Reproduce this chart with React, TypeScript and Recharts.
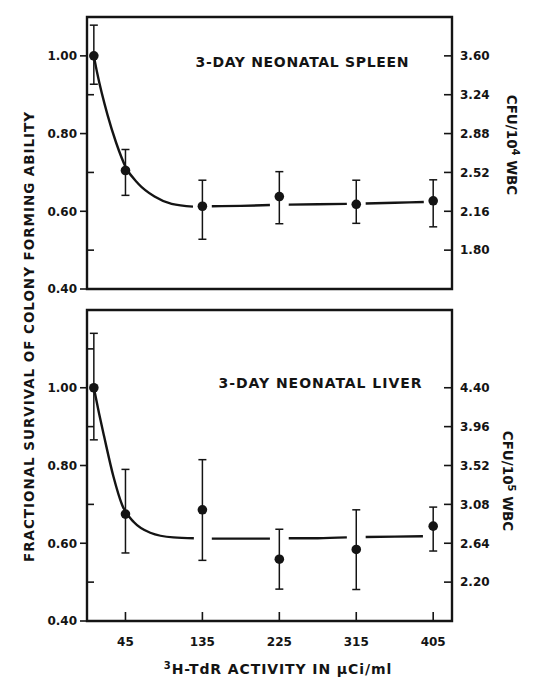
import React from 'react'
import { ComposedChart, Line, Scatter, ErrorBar, XAxis, YAxis, ReferenceArea } from 'recharts'

// 3H-TdR activity (µCi/ml); the control point is drawn just right of the axis
const doses = [8, 45, 135, 225, 315, 405]
const doseTicks = [45, 135, 225, 315, 405]

// 3-day neonatal spleen
const spleenMean = [1.0, 0.705, 0.613, 0.638, 0.618, 0.627]
const spleenHigh = [1.079, 0.759, 0.68, 0.702, 0.68, 0.681]
const spleenLow = [0.927, 0.641, 0.528, 0.568, 0.569, 0.56]
// fitted curve, broken (null) where it passes behind an error bar
const spleenCurveX = [8, 12, 24, 34, 45, 60, 79, 99, 124, 135, 146, 180, 214, 225, 236, 270, 304, 315, 326, 360, 394]
const spleenCurveY = [1.0, 0.955, 0.848, 0.777, 0.715, 0.671, 0.638, 0.619, 0.612, null, 0.613, 0.614, 0.616, null, 0.617, 0.618, 0.619, null, 0.62, 0.622, 0.624]

// 3-day neonatal liver
const liverMean = [1.0, 0.675, 0.686, 0.559, 0.584, 0.644]
const liverHigh = [1.14, 0.79, 0.815, 0.636, 0.686, 0.693]
const liverLow = [0.866, 0.575, 0.556, 0.482, 0.481, 0.58]
const liverCurveX = [8, 14, 20, 31, 41, 55, 74, 101, 125, 135, 146, 180, 214, 225, 236, 270, 304, 315, 326, 360, 393]
const liverCurveY = [1.0, 0.935, 0.875, 0.771, 0.699, 0.654, 0.627, 0.615, 0.613, null, 0.612, 0.612, 0.612, null, 0.613, 0.613, 0.615, null, 0.616, 0.617, 0.618]

// left axis (fraction) and right axis (CFU)
const leftMajor = [0.4, 0.6, 0.8, 1.0]
const spleenLeftTicks = [0.4, 0.5, 0.6, 0.7, 0.8, 0.9, 1.0]
const liverLeftTicks = [0.4, 0.5, 0.6, 0.7, 0.8, 0.9, 1.0, 1.1]
const spleenCfuTicks = [1.8, 2.16, 2.52, 2.88, 3.24, 3.6]
const liverCfuTicks = [2.2, 2.64, 3.08, 3.52, 3.96, 4.4]
const spleenCfuPerUnit = 3.6
const liverCfuPerUnit = 4.4

const INK = '#141414'
const FONT = '"DejaVu Sans", sans-serif'

const toPoints = (mean: number[], hi: number[], lo: number[]) =>
  doses.map((x, i) => ({ x, y: mean[i], err: [mean[i] - lo[i], hi[i] - mean[i]] }))
const toCurve = (xs: number[], ys: (number | null)[]) => xs.map((x, i) => ({ x, y: ys[i] }))

const LeftTick = (p: any) => {
  const axisX = p.x + 10
  const v = p.payload.value
  const major = leftMajor.some((m) => Math.abs(m - v) < 1e-6)
  if (!major) {
    return <line x1={axisX} x2={axisX + 7} y1={p.y} y2={p.y} stroke={INK} strokeWidth={1.6} />
  }
  return (
    <g>
      <line x1={axisX - 7} x2={axisX} y1={p.y} y2={p.y} stroke={INK} strokeWidth={1.6} />
      <text x={p.x} y={p.y} dy="0.36em" textAnchor="end" fontFamily={FONT} fontWeight={700} fontSize={12} fill={INK}>
        {v.toFixed(2)}
      </text>
    </g>
  )
}

const dot = (p: any) => <circle cx={p.cx} cy={p.cy} r={4.8} fill={INK} />
const nothing = () => <g />

type PanelProps = {
  top: number
  height: number
  margin: { top: number; right: number; bottom: number; left: number }
  yMax: number
  leftTicks: number[]
  cfuTicks: number[]
  cfuPerUnit: number
  points: { x: number; y: number; err: number[] }[]
  curve: { x: number; y: number | null }[]
  showXLabels: boolean
  xAxisHeight: number
}

function Panel(props: PanelProps) {
  const { top, height, margin, yMax, leftTicks, cfuTicks, cfuPerUnit, points, curve, showXLabels, xAxisHeight } = props
  // same points in CFU units, so the right axis has a series of its own
  const cfuPoints = points.map((d) => ({ x: d.x, y: d.y * cfuPerUnit }))
  return (
    <div style={{ position: 'absolute', left: 0, top }}>
      <ComposedChart width={537} height={height} margin={margin}>
        <XAxis
          dataKey="x"
          type="number"
          domain={[0, 427]}
          ticks={doseTicks}
          height={xAxisHeight}
          axisLine={false}
          tickSize={-9}
          tickMargin={25}
          tickLine={{ stroke: INK, strokeWidth: 1.6 }}
          tickFormatter={(v: number) => (showXLabels ? String(v) : '')}
          tick={{ fontFamily: FONT, fontWeight: 700, fontSize: 12, fill: INK }}
        />
        <YAxis
          type="number"
          domain={[0.4, yMax]}
          ticks={leftTicks}
          width={60}
          axisLine={false}
          tickLine={false}
          tickSize={0}
          tickMargin={10}
          tick={LeftTick}
        />
        <YAxis
          yAxisId="cfu"
          orientation="right"
          type="number"
          domain={[0.4 * cfuPerUnit, yMax * cfuPerUnit]}
          allowDataOverflow
          ticks={cfuTicks}
          width={50}
          axisLine={false}
          tickSize={-8}
          tickMargin={16}
          tickLine={{ stroke: INK, strokeWidth: 1.6 }}
          tickFormatter={(v: number) => v.toFixed(2)}
          tick={{ fontFamily: FONT, fontWeight: 700, fontSize: 12, fill: INK }}
        />
        <ReferenceArea x1={0} x2={427} y1={0.4} y2={yMax} fill="none" stroke={INK} strokeWidth={2.4} ifOverflow="visible" />
        <Line
          data={curve}
          dataKey="y"
          type="monotone"
          stroke={INK}
          strokeWidth={2.4}
          dot={false}
          activeDot={false}
          connectNulls={false}
          isAnimationActive={false}
        />
        <Scatter yAxisId="cfu" data={cfuPoints} dataKey="y" shape={nothing} isAnimationActive={false} />
        <Scatter data={points} dataKey="y" shape={dot} isAnimationActive={false}>
          <ErrorBar dataKey="err" direction="y" width={4} stroke={INK} strokeWidth={1.5} isAnimationActive={false} />
        </Scatter>
      </ComposedChart>
    </div>
  )
}

export default function App() {
  const spleenPoints = toPoints(spleenMean, spleenHigh, spleenLow)
  const liverPoints = toPoints(liverMean, liverHigh, liverLow)
  const txt = { fontFamily: FONT, fontWeight: 700, fill: INK }

  return (
    <div style={{ position: 'absolute', left: 0, top: 0, width: 537, height: 685, background: '#fff', overflow: 'hidden' }}>
      <Panel
        top={0}
        height={300}
        margin={{ top: 17, right: 35, bottom: 11, left: 27 }}
        yMax={1.1}
        leftTicks={spleenLeftTicks}
        cfuTicks={spleenCfuTicks}
        cfuPerUnit={spleenCfuPerUnit}
        points={spleenPoints}
        curve={toCurve(spleenCurveX, spleenCurveY)}
        showXLabels={false}
        xAxisHeight={0}
      />
      <Panel
        top={300}
        height={385}
        margin={{ top: 10, right: 35, bottom: 24, left: 27 }}
        yMax={1.2}
        leftTicks={liverLeftTicks}
        cfuTicks={liverCfuTicks}
        cfuPerUnit={liverCfuPerUnit}
        points={liverPoints}
        curve={toCurve(liverCurveX, liverCurveY)}
        showXLabels={true}
        xAxisHeight={40}
      />
      <svg width={537} height={685} style={{ position: 'absolute', left: 0, top: 0, pointerEvents: 'none' }}>
        <text x={302} y={67} textAnchor="middle" fontSize={14} textLength={213} lengthAdjust="spacing" {...txt}>
          3-DAY NEONATAL SPLEEN
        </text>
        <text x={320} y={388} textAnchor="middle" fontSize={14} textLength={203} lengthAdjust="spacing" {...txt}>
          3-DAY NEONATAL LIVER
        </text>
        <text
          transform="translate(34,337) rotate(-90)"
          textAnchor="middle"
          fontSize={13.5}
          textLength={450}
          lengthAdjust="spacing"
          {...txt}
        >
          FRACTIONAL SURVIVAL OF COLONY FORMING ABILITY
        </text>
        <text transform="translate(507,145) rotate(90)" textAnchor="middle" fontSize={13.5} {...txt}>
          CFU/10<tspan dy={-5} fontSize={10}>4</tspan>
          <tspan dy={5}> WBC</tspan>
        </text>
        <text transform="translate(503,481) rotate(90)" textAnchor="middle" fontSize={13.5} {...txt}>
          CFU/10<tspan dy={-5} fontSize={10}>5</tspan>
          <tspan dy={5}> WBC</tspan>
        </text>
        <text x={278} y={674} textAnchor="middle" fontSize={14} letterSpacing={0.9} {...txt}>
          <tspan dy={-5} fontSize={10}>3</tspan>
          <tspan dy={5}>H-TdR ACTIVITY IN µCi/ml</tspan>
        </text>
      </svg>
    </div>
  )
}
